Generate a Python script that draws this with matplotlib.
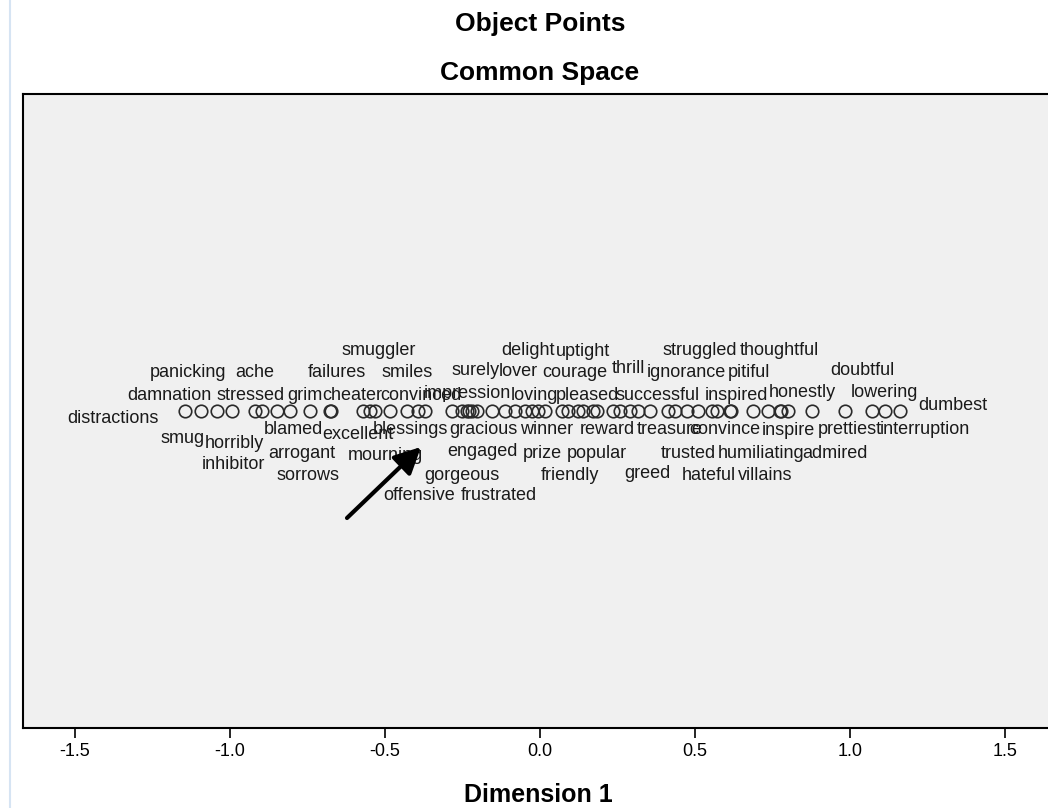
import matplotlib
matplotlib.use('Agg')
import matplotlib.pyplot as plt
from matplotlib.lines import Line2D

plt.rcParams['font.family'] = ['Liberation Sans', 'DejaVu Sans']
plt.rcParams['axes.unicode_minus'] = False

# object points on dimension 1
words = [
    'distractions', 'damnation', 'smug', 'panicking', 'horribly', 'inhibitor',
    'stressed', 'ache', 'blamed', 'arrogant', 'grim', 'sorrows', 'failures',
    'cheater', 'excellent', 'smuggler', 'mourning', 'smiles', 'blessings',
    'offensive', 'convinced', 'gorgeous', 'impression', 'surely', 'engaged',
    'gracious', 'frustrated', 'lover', 'delight', 'loving', 'prize', 'winner',
    'friendly', 'courage', 'uptight', 'pleased', 'popular', 'reward', 'thrill',
    'greed', 'successful', 'treasure', 'ignorance', 'trusted', 'struggled',
    'hateful', 'convince', 'inspired', 'pitiful', 'humiliating', 'villains',
    'thoughtful', 'inspire', 'honestly', 'admired', 'prettiest', 'doubtful',
    'lowering', 'interruption', 'dumbest',
]
dim1 = [
    -1.145, -1.094, -1.042, -0.994, -0.919, -0.897, -0.848, -0.806, -0.742,
    -0.677, -0.674, -0.571, -0.548, -0.532, -0.484, -0.429, -0.394, -0.371,
    -0.284, -0.252, -0.235, -0.229, -0.219, -0.203, -0.155, -0.113, -0.081,
    -0.048, -0.026, -0.006, 0.016, 0.071, 0.090, 0.123, 0.139, 0.171, 0.184,
    0.235, 0.258, 0.290, 0.316, 0.355, 0.413, 0.435, 0.474, 0.510, 0.555,
    0.571, 0.613, 0.616, 0.687, 0.735, 0.774, 0.777, 0.800, 0.877, 0.984,
    1.071, 1.113, 1.161,
]
xticks = [-1.5, -1.0, -0.5, 0.0, 0.5, 1.0, 1.5]

# label placement (pixels from the point: horizontal shift, baseline drop)
label_dx = [
    -72, -31, -34, -44, -21, -28, -27, -35, -17, -28, -26, -55, -33, -23, -32,
    -28, -32, -18, -41, -43, -46, -7, -5, -2, -10, -22, -16, -7, -4, -4, -3,
    -15, 2, -3, 0, -6, 0, -6, 8, 17, 20, 20, 18, 13, 13, 11, 13, 19, 19, 30,
    12, 12, 8, 21, 47, 38, 17, 12, 40, 53,
]
label_drop = [
    12, -11, 32, -34, 37, 58, -11, -34, 23, 47, -11, 69, -34, -11, 28, -56,
    49, -34, 23, 89, -11, 69, -13, -36, 45, 23, 89, -35, -56, -11, 47, 23, 69,
    -34, -55, -11, 47, 23, -38, 67, -11, 23, -34, 47, -56, 69, 23, -11, -34,
    47, 69, -56, 24, -14, 47, 23, -36, -14, 23, -1,
]

W, H = 1048, 808
fig = plt.figure(figsize=(W / 100, H / 100), dpi=100, facecolor='white')
ax = fig.add_axes([23 / W, (H - 728) / H, (1057 - 23) / W, (728 - 94) / H])
ax.set_facecolor('#f0f0f0')

ax.plot(dim1, [0] * len(dim1), linestyle='none', marker='o', markersize=9,
        markerfacecolor='none', markeredgecolor='#2a2a2a', markeredgewidth=1.2)

for w, x, dx, dr in zip(words, dim1, label_dx, label_drop):
    ax.annotate(w, (x, 0), xytext=(dx, -dr), textcoords='offset pixels',
                ha='center', va='baseline', fontsize=13, color='#1a1a1a')

ax.set_xlim(-1.6677, 1.6677)
ax.set_ylim(-1, 1)
ax.set_xticks(xticks)
ax.set_xticklabels([f'{t:.1f}' for t in xticks])
ax.set_yticks([])
ax.tick_params(axis='x', direction='out', length=7, width=1.2, pad=4,
               labelsize=13, colors='black')
for s in ax.spines.values():
    s.set_color('black')
    s.set_linewidth(1.5)

fig.text(540 / W, (H - 31) / H, 'Object Points', ha='center', va='baseline',
         fontsize=19, fontweight='bold')
fig.text(540 / W, (H - 80) / H, 'Common Space', ha='center', va='baseline',
         fontsize=19, fontweight='bold')
fig.text(538 / W, (H - 802) / H, 'Dimension 1', ha='center', va='baseline',
         fontsize=18, fontweight='bold')

# viewer border line on the left
fig.add_artist(Line2D([10 / W, 10 / W], [0, 1], transform=fig.transFigure,
                      color='#d6e4f3', lw=1.5))

# the hand-drawn arrow pointing at the cluster
ax.annotate('', xy=(421, H - 447), xytext=(347, H - 518),
            xycoords='figure pixels', textcoords='figure pixels',
            arrowprops=dict(arrowstyle='-|>,head_length=0.8,head_width=0.4',
                            lw=3, color='black', mutation_scale=20,
                            shrinkA=0, shrinkB=0))

fig.savefig('out.png', dpi=100, facecolor='white')
